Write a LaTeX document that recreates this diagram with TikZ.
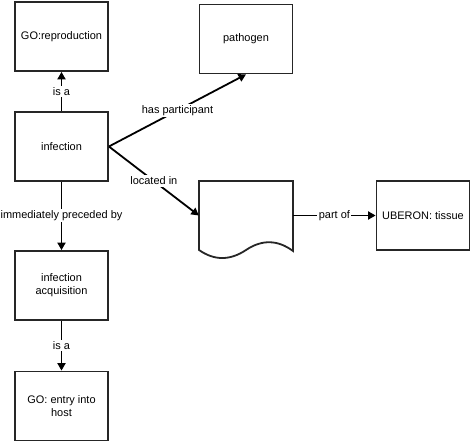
\documentclass[tikz,border=0pt]{standalone}
\usepackage{fontspec}
\setmainfont{Liberation Sans}
\usetikzlibrary{arrows.meta}
\begin{document}
\begin{tikzpicture}[x=1bp,y=-1bp,
  box/.style={draw=black!85,line width=1.8bp,minimum width=93bp,minimum height=69bp,inner sep=0pt,align=center,font=\fontsize{11}{13}\selectfont},
  lbl/.style={fill=white,inner sep=1.5bp,font=\fontsize{11}{13}\selectfont},
  conn/.style={line width=1.8bp,-{Triangle[length=7.5bp,width=8bp]}}]
\useasboundingbox (0,0) rectangle (472,443);
\node[box] (repro) at (61.5,36.5) {GO:reproduction};
\node[box] (inf) at (61.5,146.5) {infection};
\node[box] (path) at (246,39) {pathogen};
\node[box] (acq) at (61.5,285.5) {infection\\acquisition};
\node[box] (entry) at (61.5,406) {GO: entry into\\host};
\node[box] (uber) at (423,215.5) {UBERON: tissue};
\node[minimum width=94bp,minimum height=69bp,inner sep=0pt] (doc) at (246,215.5) {};
\draw[draw=black!85,line width=1.8bp,line join=miter] (199,181) -- (293,181) -- (293,251)
  .. controls (277.7,239.7) and (262,239.3) .. (246,250)
  .. controls (230,260.7) and (214.3,260.7) .. (199,250) -- cycle;
\draw[conn] (inf.north) -- node[lbl,pos=0.5] {is a} (repro.south);
\draw[conn] (inf.east) -- node[lbl,pos=0.5] {has participant} (path.south);
\draw[conn] (inf.east) -- node[lbl,pos=0.5] {located in} (doc.west);
\draw[conn] (inf.south) -- node[lbl,pos=0.49] {immediately preceded by} (acq.north);
\draw[conn] (acq.south) -- node[lbl,pos=0.5] {is a} (entry.north);
\draw[conn] (doc.east) -- node[lbl,pos=0.5] {part of} (uber.west);
\end{tikzpicture}
\end{document}
